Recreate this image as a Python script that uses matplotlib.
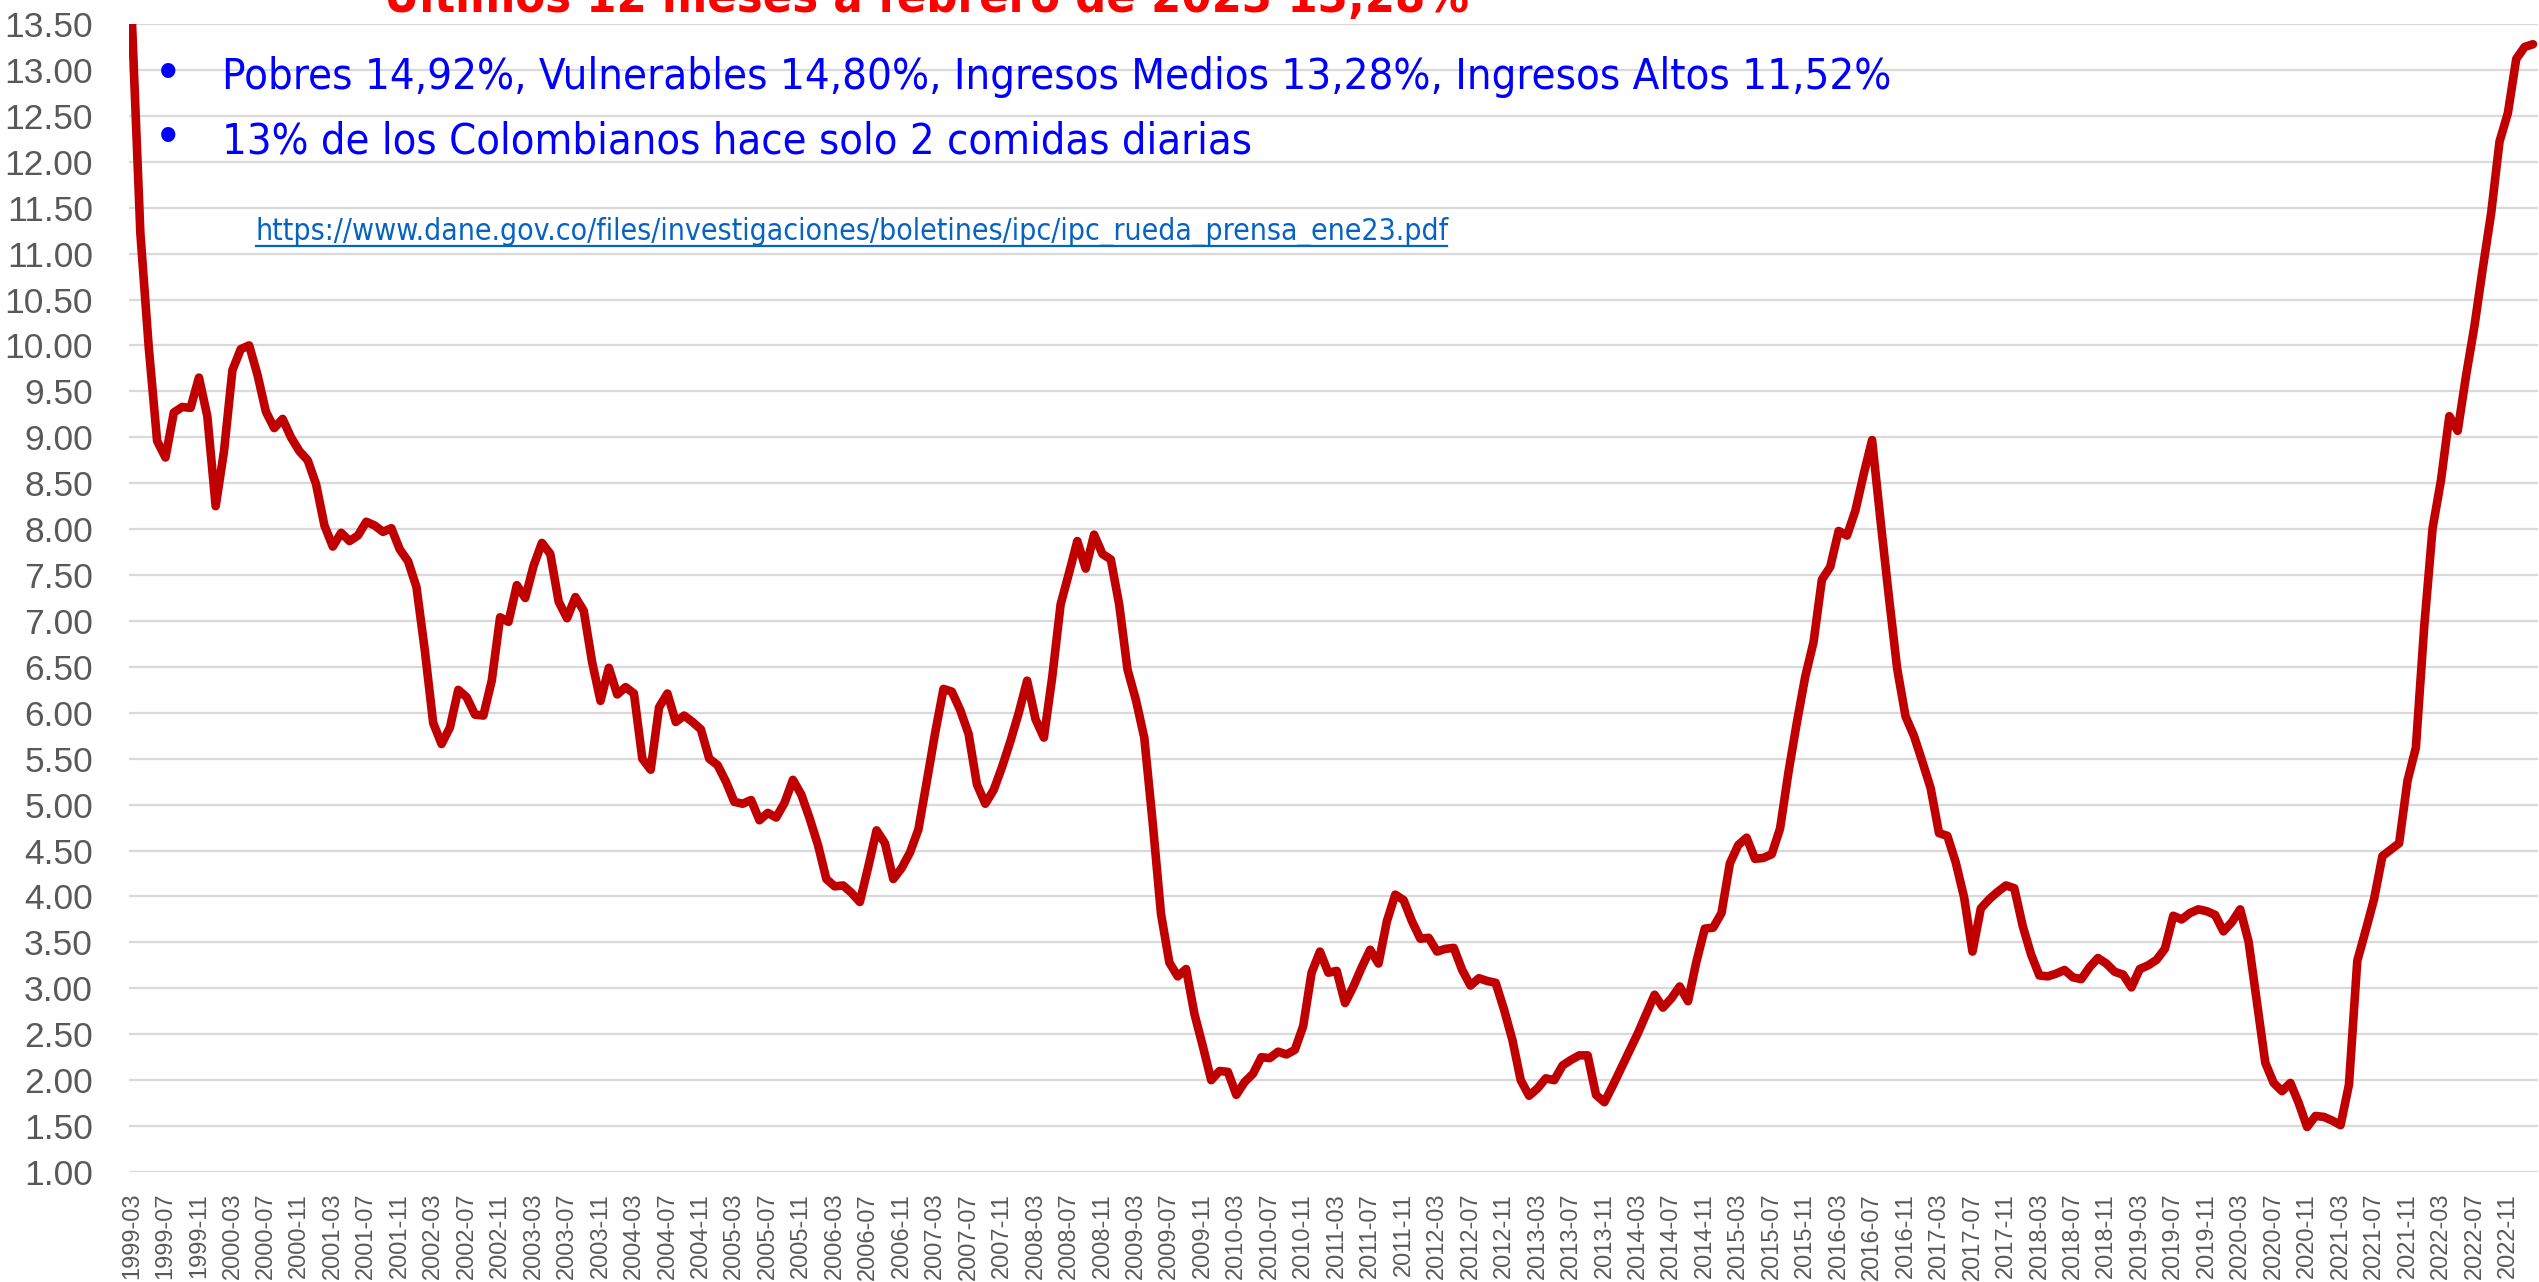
import matplotlib
matplotlib.use("Agg")
import matplotlib.pyplot as plt
import numpy as np
import pandas as pd
from matplotlib import font_manager
from matplotlib.lines import Line2D

# variacion anual IPC Colombia (%), mensual desde 1999-03 hasta 2023-02
inflacion = [
    13.51, 11.22, 9.98, 8.96, 8.78, 9.27, 9.33, 9.32, 9.65, 9.23,            # 1999
    8.25, 8.85, 9.73, 9.96, 10.00, 9.68, 9.28, 9.10, 9.20, 9.00, 8.85, 8.75,  # 2000
    8.49, 8.04, 7.81, 7.96, 7.87, 7.93, 8.08, 8.04, 7.97, 8.01, 7.78, 7.65,   # 2001
    7.37, 6.68, 5.89, 5.66, 5.84, 6.25, 6.17, 5.98, 5.97, 6.35, 7.04, 6.99,   # 2002
    7.39, 7.25, 7.60, 7.85, 7.73, 7.21, 7.03, 7.26, 7.11, 6.55, 6.13, 6.49,   # 2003
    6.20, 6.28, 6.21, 5.50, 5.38, 6.06, 6.21, 5.90, 5.97, 5.90, 5.82, 5.50,   # 2004
    5.43, 5.25, 5.03, 5.01, 5.05, 4.83, 4.91, 4.86, 5.02, 5.27, 5.11, 4.85,   # 2005
    4.56, 4.19, 4.11, 4.12, 4.04, 3.94, 4.32, 4.72, 4.58, 4.19, 4.31, 4.48,   # 2006
    4.73, 5.25, 5.78, 6.26, 6.23, 6.03, 5.77, 5.22, 5.01, 5.16, 5.41, 5.69,   # 2007
    6.00, 6.35, 5.93, 5.73, 6.39, 7.18, 7.52, 7.87, 7.57, 7.94, 7.73, 7.67,   # 2008
    7.18, 6.47, 6.14, 5.73, 4.81, 3.81, 3.28, 3.13, 3.21, 2.72, 2.37, 2.00,   # 2009
    2.10, 2.09, 1.84, 1.98, 2.07, 2.25, 2.24, 2.31, 2.28, 2.33, 2.59, 3.17,   # 2010
    3.40, 3.17, 3.19, 2.84, 3.02, 3.23, 3.42, 3.27, 3.73, 4.02, 3.96, 3.73,   # 2011
    3.54, 3.55, 3.40, 3.43, 3.44, 3.20, 3.03, 3.11, 3.08, 3.06, 2.77, 2.44,   # 2012
    2.00, 1.83, 1.91, 2.02, 2.00, 2.16, 2.22, 2.27, 2.27, 1.84, 1.76, 1.94,   # 2013
    2.13, 2.32, 2.51, 2.72, 2.93, 2.79, 2.89, 3.02, 2.86, 3.29, 3.65, 3.66,   # 2014
    3.82, 4.36, 4.56, 4.64, 4.41, 4.42, 4.46, 4.74, 5.35, 5.89, 6.39, 6.77,   # 2015
    7.45, 7.59, 7.98, 7.93, 8.20, 8.60, 8.97, 8.10, 7.27, 6.48, 5.96, 5.75,   # 2016
    5.47, 5.18, 4.69, 4.66, 4.37, 3.99, 3.40, 3.87, 3.97, 4.05, 4.12, 4.09,   # 2017
    3.68, 3.37, 3.14, 3.13, 3.16, 3.20, 3.12, 3.10, 3.23, 3.33, 3.27, 3.18,   # 2018
    3.15, 3.01, 3.21, 3.25, 3.31, 3.43, 3.79, 3.75, 3.82, 3.86, 3.84, 3.80,   # 2019
    3.62, 3.72, 3.86, 3.51, 2.85, 2.19, 1.97, 1.88, 1.97, 1.75, 1.49, 1.61,   # 2020
    1.60, 1.56, 1.51, 1.95, 3.30, 3.63, 3.97, 4.44, 4.51, 4.58, 5.26, 5.62,   # 2021
    6.94, 8.01, 8.53, 9.23, 9.07, 9.67, 10.21, 10.84, 11.44, 12.22, 12.53, 13.12,  # 2022
    13.25, 13.28,                                                             # 2023
]
meses = [p.strftime("%Y-%m") for p in pd.period_range("1999-03", periods=len(inflacion), freq="M")]
y_ticks = [1.0 + 0.5 * k for k in range(26)]

titulo = "Últimos 12 meses a febrero de 2023 13,28%"
linea1 = "Pobres 14,92%, Vulnerables 14,80%, Ingresos Medios 13,28%, Ingresos Altos 11,52%"
linea2 = "13% de los Colombianos hace solo 2 comidas diarias"
enlace = "https://www.dane.gov.co/files/investigaciones/boletines/ipc/ipc_rueda_prensa_ene23.pdf"

W, H = 2539, 1282

# buscar una fuente estrecha (tipo Arial Narrow); si no hay, Liberation Sans
narrow = None
for f in font_manager.fontManager.ttflist:
    if f.style != "normal":
        continue
    if "Narrow" in f.name or "Condensed" in f.name or f.stretch in ("condensed", "semi-condensed"):
        if narrow is None or "Liberation" in f.name:
            narrow = (f.name, f.stretch)


def fp(weight="normal", size=20):
    if narrow:
        return font_manager.FontProperties(family=narrow[0], stretch=narrow[1], weight=weight, size=size)
    return font_manager.FontProperties(family="Liberation Sans", weight=weight, size=size)


fig = plt.figure(figsize=(W / 100, H / 100), dpi=100)
fig.patch.set_facecolor("white")
ax = fig.add_axes([129 / W, 1 - 1172 / H, (2538 - 129) / W, (1172 - 24) / H])

x = np.arange(len(inflacion))
ax.plot(x, inflacion, color="#C00000", lw=6.2, solid_joinstyle="round",
        solid_capstyle="round", zorder=3)
ax.set_xlim(-0.36, len(inflacion) - 1 + 0.6)
ax.set_ylim(1.0, 13.5)

ax.set_yticks(y_ticks)
ax.set_yticklabels([f"{v:.2f}" for v in y_ticks])
ax.set_xticks(x[::4])
ax.set_xticklabels(meses[::4], rotation=90)

ax.grid(axis="y", color="#d9d9d9", lw=1.6)
ax.grid(axis="x", visible=False)
ax.set_axisbelow(True)
for s in ax.spines.values():
    s.set_visible(False)
ax.tick_params(length=0)
ax.tick_params(axis="y", pad=26, labelcolor="#595959")
ax.tick_params(axis="x", pad=15, labelcolor="#595959")
for lab in ax.get_yticklabels():
    lab.set_family("Liberation Sans")
    lab.set_fontsize(25.5)
for lab in ax.get_xticklabels():
    lab.set_family("Liberation Sans")
    lab.set_fontsize(17)

renderer = fig.canvas.get_renderer()


def put(texto, x0, y0, ancho, weight="normal", **kw):
    # texto con linea base en pixeles, escalado al ancho medido
    t = fig.text(x0 / W, 1 - y0 / H, texto, ha="left", va="baseline",
                 fontproperties=fp(weight, 30), **kw)
    w = t.get_window_extent(renderer).width
    t.set_fontsize(t.get_fontsize() * ancho / w)
    return t


put(titulo, 384, 12, 1082, weight="bold", color="#FF0000")
put(linea1, 222, 89, 1667, color="#0000FF")
put(linea2, 222, 153, 1031, color="#0000FF")
put(enlace, 256, 240, 1191, color="#0563C1")
fig.add_artist(Line2D([256 / W, 1447 / W], [1 - 246 / H] * 2, transform=fig.transFigure,
                      color="#0563C1", lw=1.6))
for yb in (89, 153):
    fig.text(168 / W, 1 - yb / H, "\u2022", ha="center", va="baseline", fontsize=38,
             color="#0000FF", family="Liberation Sans")

fig.savefig("out.png", dpi=100, facecolor="white")
